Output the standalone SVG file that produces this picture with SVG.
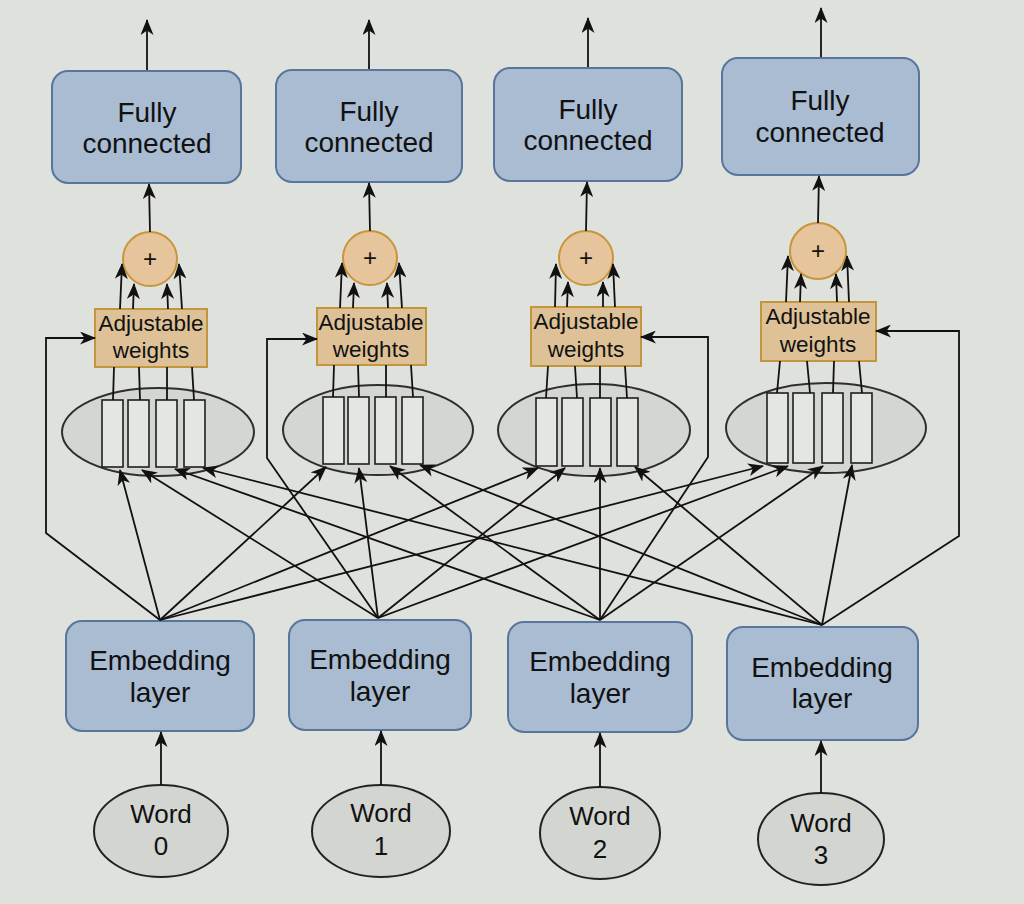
<svg xmlns="http://www.w3.org/2000/svg" width="1024" height="904" viewBox="0 0 1024 904">
<style>
.bg{fill:#dfe1dc}
.blue{fill:#a9bcd2;stroke:#58759c;stroke-width:2}
.tan{fill:#dec197;stroke:#c3963e;stroke-width:2}
.plus{fill:#e7c59c;stroke:#c8953a;stroke-width:2}
.grp{fill:#d4d7d1;stroke:#2e2e2e;stroke-width:2}
.cell{fill:#e4e6e1;stroke:#1e1e1e;stroke-width:1.6}
.word{fill:#d3d5d1;stroke:#222;stroke-width:2}
.t{font-family:"Liberation Sans",Arial,Helvetica,sans-serif;fill:#111;text-anchor:middle}
.big{font-size:28px}
.mid{font-size:26px}
.sm{font-size:22.5px}
.pl{font-size:24px}
.ln{fill:none;stroke:#111;stroke-width:1.8}
.ar{fill:none;stroke:#111;stroke-width:1.8;marker-end:url(#ah)}
</style>
<defs>
<marker id="ah" viewBox="0 0 16 13" refX="15" refY="6.5" markerWidth="16" markerHeight="13" markerUnits="userSpaceOnUse" orient="auto">
<path d="M0,0 L16,6.5 L0,13 L4.5,6.5 z" fill="#111"/>
</marker>
</defs>
<rect class="bg" x="0" y="0" width="1024" height="904"/>

<g id="fc0"><rect class="blue" x="52" y="71" width="189" height="112" rx="16"/><text class="t big" x="147" y="122">Fully</text><text class="t big" x="147" y="153">connected</text></g>
<g id="fc1"><rect class="blue" x="276" y="70" width="186" height="112" rx="16"/><text class="t big" x="369" y="121">Fully</text><text class="t big" x="369" y="152">connected</text></g>
<g id="fc2"><rect class="blue" x="494" y="68" width="188" height="113" rx="16"/><text class="t big" x="588" y="119">Fully</text><text class="t big" x="588" y="150">connected</text></g>
<g id="fc3"><rect class="blue" x="722" y="58" width="197" height="117" rx="16"/><text class="t big" x="820" y="110">Fully</text><text class="t big" x="820" y="142">connected</text></g>

<g id="sum0"><circle class="plus" cx="150" cy="259" r="27"/><text class="t pl" x="150" y="267">+</text></g>
<g id="sum1"><circle class="plus" cx="370" cy="258" r="27"/><text class="t pl" x="370" y="266">+</text></g>
<g id="sum2"><circle class="plus" cx="586" cy="258" r="27"/><text class="t pl" x="586" y="266">+</text></g>
<g id="sum3"><circle class="plus" cx="818" cy="251" r="28"/><text class="t pl" x="818" y="259">+</text></g>

<g id="aw0"><rect class="tan" x="95" y="309" width="112" height="58"/><text class="t sm" x="151" y="331">Adjustable</text><text class="t sm" x="151" y="358">weights</text></g>
<g id="aw1"><rect class="tan" x="317" y="308" width="109" height="57"/><text class="t sm" x="371" y="330">Adjustable</text><text class="t sm" x="371" y="357">weights</text></g>
<g id="aw2"><rect class="tan" x="531" y="307" width="110" height="59"/><text class="t sm" x="586" y="329">Adjustable</text><text class="t sm" x="586" y="357">weights</text></g>
<g id="aw3"><rect class="tan" x="761" y="302" width="115" height="59"/><text class="t sm" x="818" y="324">Adjustable</text><text class="t sm" x="818" y="352">weights</text></g>

<g id="att0"><ellipse class="grp" cx="158" cy="432" rx="96" ry="44"/>
<rect class="cell" x="102" y="400" width="21" height="67"/><rect class="cell" x="128" y="400" width="21" height="67"/><rect class="cell" x="156" y="400" width="21" height="67"/><rect class="cell" x="184" y="400" width="21" height="67"/></g>
<g id="att1"><ellipse class="grp" cx="378" cy="430" rx="95" ry="45"/>
<rect class="cell" x="323" y="397" width="21" height="67"/><rect class="cell" x="348" y="397" width="21" height="67"/><rect class="cell" x="375" y="397" width="21" height="67"/><rect class="cell" x="402" y="397" width="21" height="67"/></g>
<g id="att2"><ellipse class="grp" cx="594" cy="430" rx="96" ry="46"/>
<rect class="cell" x="536" y="398" width="21" height="68"/><rect class="cell" x="562" y="398" width="21" height="68"/><rect class="cell" x="590" y="398" width="21" height="68"/><rect class="cell" x="617" y="398" width="21" height="68"/></g>
<g id="att3"><ellipse class="grp" cx="826" cy="428" rx="100" ry="45"/>
<rect class="cell" x="767" y="393" width="21" height="70"/><rect class="cell" x="793" y="393" width="21" height="70"/><rect class="cell" x="822" y="393" width="21" height="70"/><rect class="cell" x="851" y="393" width="21" height="70"/></g>

<g id="emb0"><rect class="blue" x="66" y="621" width="188" height="110" rx="16"/><text class="t big" x="160" y="670">Embedding</text><text class="t big" x="160" y="702">layer</text></g>
<g id="emb1"><rect class="blue" x="289" y="620" width="182" height="110" rx="16"/><text class="t big" x="380" y="669">Embedding</text><text class="t big" x="380" y="701">layer</text></g>
<g id="emb2"><rect class="blue" x="508" y="622" width="184" height="110" rx="16"/><text class="t big" x="600" y="671">Embedding</text><text class="t big" x="600" y="703">layer</text></g>
<g id="emb3"><rect class="blue" x="727" y="627" width="191" height="113" rx="16"/><text class="t big" x="822" y="677">Embedding</text><text class="t big" x="822" y="708">layer</text></g>

<g id="word0"><ellipse class="word" cx="161" cy="831" rx="67" ry="46"/><text class="t mid" x="161" y="823">Word</text><text class="t mid" x="161" y="855">0</text></g>
<g id="word1"><ellipse class="word" cx="381" cy="831" rx="69" ry="46"/><text class="t mid" x="381" y="822">Word</text><text class="t mid" x="381" y="855">1</text></g>
<g id="word2"><ellipse class="word" cx="600" cy="833" rx="60" ry="46"/><text class="t mid" x="600" y="825">Word</text><text class="t mid" x="600" y="858">2</text></g>
<g id="word3"><ellipse class="word" cx="821" cy="839" rx="63" ry="46"/><text class="t mid" x="821" y="832">Word</text><text class="t mid" x="821" y="864">3</text></g>

<g id="connectors">
<line class="ar" x1="147" y1="70" x2="147" y2="20"/>
<line class="ar" x1="369" y1="69" x2="369" y2="20"/>
<line class="ar" x1="588" y1="67" x2="588" y2="18"/>
<line class="ar" x1="821" y1="57" x2="821" y2="8"/>
<line class="ar" x1="150" y1="232" x2="149" y2="184"/>
<line class="ar" x1="370" y1="231" x2="369" y2="183"/>
<line class="ar" x1="586" y1="231" x2="587" y2="182"/>
<line class="ar" x1="818" y1="223" x2="819" y2="176"/>
<line class="ar" x1="120" y1="309" x2="122" y2="264"/>
<line class="ar" x1="133" y1="309" x2="134" y2="284"/>
<line class="ar" x1="168" y1="309" x2="167" y2="284"/>
<line class="ar" x1="182" y1="309" x2="179" y2="264"/>
<line class="ar" x1="340" y1="308" x2="342" y2="263"/>
<line class="ar" x1="353" y1="308" x2="354" y2="283"/>
<line class="ar" x1="388" y1="308" x2="387" y2="283"/>
<line class="ar" x1="402" y1="308" x2="399" y2="263"/>
<line class="ar" x1="555" y1="307" x2="556" y2="264"/>
<line class="ar" x1="567" y1="307" x2="568" y2="282"/>
<line class="ar" x1="603" y1="307" x2="603" y2="282"/>
<line class="ar" x1="615" y1="307" x2="613" y2="264"/>
<line class="ar" x1="786" y1="302" x2="788" y2="256"/>
<line class="ar" x1="800" y1="302" x2="801" y2="274"/>
<line class="ar" x1="837" y1="302" x2="836" y2="274"/>
<line class="ar" x1="849" y1="302" x2="847" y2="256"/>
<line class="ln" x1="113" y1="400" x2="114" y2="367"/>
<line class="ln" x1="140" y1="400" x2="139" y2="367"/>
<line class="ln" x1="167" y1="400" x2="167" y2="367"/>
<line class="ln" x1="194" y1="400" x2="192" y2="367"/>
<line class="ln" x1="333" y1="397" x2="334" y2="365"/>
<line class="ln" x1="359" y1="397" x2="358" y2="365"/>
<line class="ln" x1="386" y1="397" x2="386" y2="365"/>
<line class="ln" x1="413" y1="397" x2="411" y2="365"/>
<line class="ln" x1="546" y1="398" x2="548" y2="366"/>
<line class="ln" x1="577" y1="398" x2="575" y2="366"/>
<line class="ln" x1="600" y1="398" x2="600" y2="366"/>
<line class="ln" x1="627" y1="398" x2="625" y2="366"/>
<line class="ln" x1="777" y1="393" x2="780" y2="361"/>
<line class="ln" x1="810" y1="393" x2="807" y2="361"/>
<line class="ln" x1="833" y1="393" x2="834" y2="361"/>
<line class="ln" x1="862" y1="393" x2="859" y2="361"/>
<polyline class="ar" points="160,620 46,533 46,338 95,338"/>
<polyline class="ar" points="378,618 267,458 267,339 317,339"/>
<polyline class="ar" points="600,620 708,457 708,337 641,337"/>
<polyline class="ar" points="822,625 959,536 959,331 876,331"/>
<line class="ar" x1="160" y1="620" x2="120" y2="470"/>
<line class="ar" x1="160" y1="620" x2="326" y2="467"/>
<line class="ar" x1="160" y1="620" x2="538" y2="468"/>
<line class="ar" x1="160" y1="620" x2="763" y2="466"/>
<line class="ar" x1="378" y1="618" x2="142" y2="470"/>
<line class="ar" x1="378" y1="618" x2="359" y2="468"/>
<line class="ar" x1="378" y1="618" x2="565" y2="468"/>
<line class="ar" x1="378" y1="618" x2="788" y2="466"/>
<line class="ar" x1="600" y1="620" x2="175" y2="469"/>
<line class="ar" x1="600" y1="620" x2="390" y2="466"/>
<line class="ar" x1="600" y1="620" x2="600" y2="468"/>
<line class="ar" x1="600" y1="620" x2="823" y2="466"/>
<line class="ar" x1="822" y1="625" x2="203" y2="468"/>
<line class="ar" x1="822" y1="625" x2="420" y2="465"/>
<line class="ar" x1="822" y1="625" x2="635" y2="467"/>
<line class="ar" x1="822" y1="625" x2="852" y2="465"/>
<line class="ar" x1="161" y1="785" x2="161" y2="732"/>
<line class="ar" x1="381" y1="785" x2="381" y2="731"/>
<line class="ar" x1="600" y1="787" x2="600" y2="733"/>
<line class="ar" x1="821" y1="793" x2="821" y2="741"/>
</g>
</svg>
